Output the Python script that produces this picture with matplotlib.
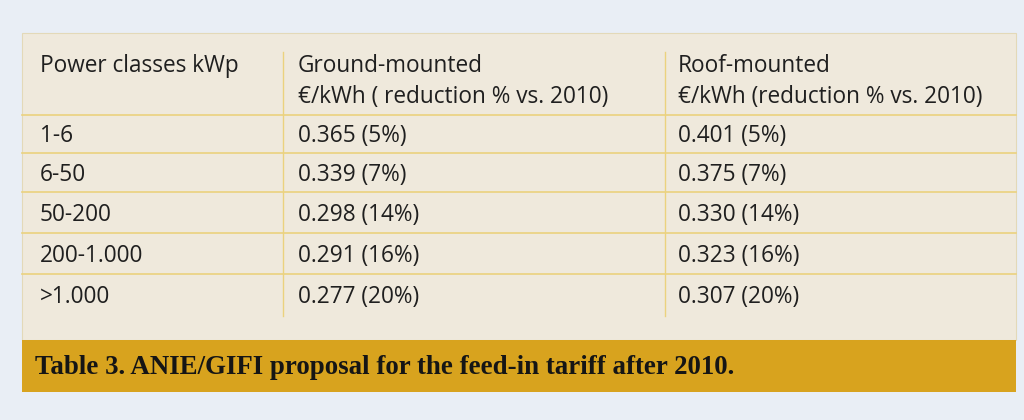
import matplotlib.pyplot as plt
from matplotlib.patches import Rectangle

# table content
header_1 = ["Power classes kWp", "Ground-mounted", "Roof-mounted"]
header_2 = ["", "\u20ac/kWh ( reduction % vs. 2010)", "\u20ac/kWh (reduction % vs. 2010)"]
power_classes = ["1-6", "6-50", "50-200", "200-1.000", ">1.000"]
ground_mounted = ["0.365 (5%)", "0.339 (7%)", "0.298 (14%)", "0.291 (16%)", "0.277 (20%)"]
roof_mounted = ["0.401 (5%)", "0.375 (7%)", "0.330 (14%)", "0.323 (16%)", "0.307 (20%)"]
caption = "Table 3. ANIE/GIFI proposal for the feed-in tariff after 2010."

BG = '#e9eef5'
PANEL = '#efe9dc'
GOLD = '#d8a31e'
LINE = '#ebd27e'
TEXT = '#1f1f1f'

fig = plt.figure(figsize=(10.24, 4.2), dpi=100, facecolor=BG)
ax = fig.add_axes([0, 0, 1, 1])
ax.set_xlim(0, 1024)
ax.set_ylim(420, 0)
ax.axis('off')

ax.add_patch(Rectangle((22, 33), 994, 307, facecolor=PANEL, edgecolor='#e3d9b8', lw=0.8))
ax.add_patch(Rectangle((22, 340), 994, 52, facecolor=GOLD, edgecolor='none'))

col_x = [40, 298, 678]
font = 'Open Sans'
fs = 16.3

for x, h1, h2 in zip(col_x, header_1, header_2):
    ax.text(x, 66, h1, fontsize=fs, family=font, color=TEXT, va='center')
    if h2:
        ax.text(x, 97, h2, fontsize=fs, family=font, color=TEXT, va='center')

row_y = [136, 175, 215, 256, 297]
line_y = [115, 153, 192, 233, 274]
for y in line_y:
    ax.plot([22, 1016], [y, y], color=LINE, lw=1.2)

for x_line in [283, 665]:
    ax.plot([x_line, x_line], [52, 316], color=LINE, lw=1.0)

for y, p, g, r in zip(row_y, power_classes, ground_mounted, roof_mounted):
    for x, s in zip(col_x, [p, g, r]):
        ax.text(x, y, s, fontsize=fs, family=font, color=TEXT, va='center')

ax.text(35, 368, caption, fontsize=19.4, family='Liberation Serif', weight='bold',
        color='#151515', va='center')

fig.savefig('out.png', dpi=100, facecolor=BG)
